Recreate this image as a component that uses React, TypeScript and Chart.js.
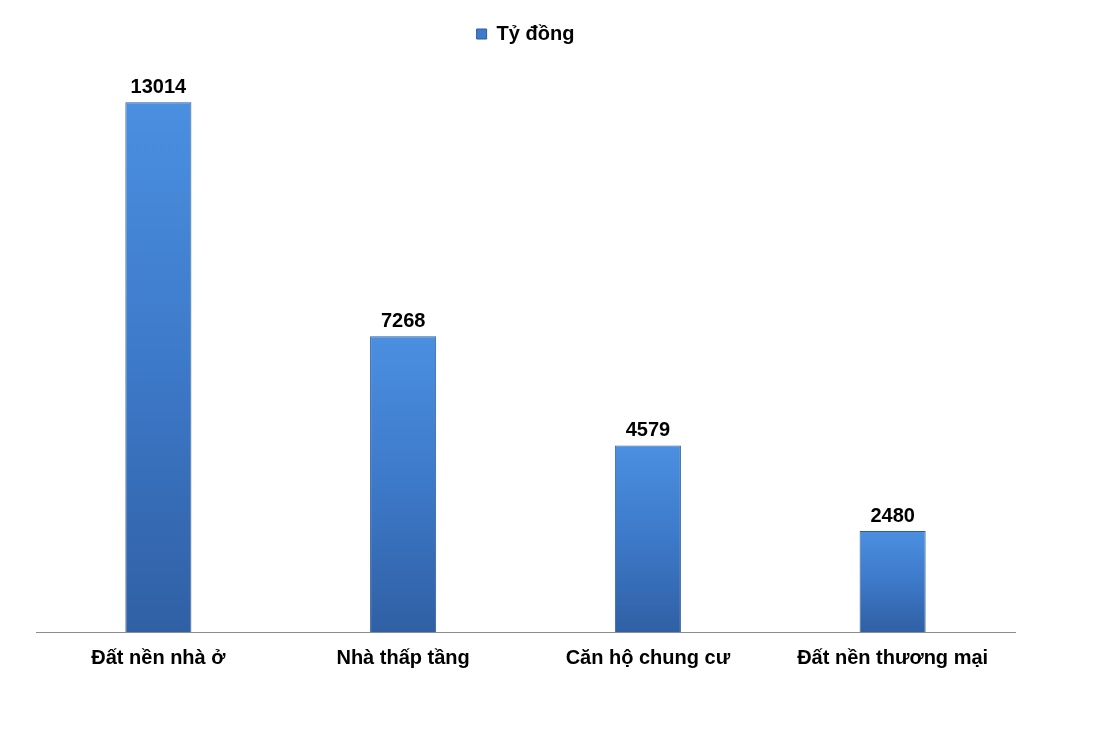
import React, { useEffect, useRef } from "react";
import { Chart, registerables } from "chart.js";

Chart.register(...registerables);

const categories = ["Đất nền nhà ở", "Nhà thấp tầng", "Căn hộ chung cư", "Đất nền thương mại"];
const values = [13014, 7268, 4579, 2480];
const seriesName = "Tỷ đồng";

const FONT = "'Liberation Sans', Arial, sans-serif";

const valueLabels = {
  id: "valueLabels",
  afterDatasetsDraw(chart: any) {
    const ctx = chart.ctx;
    const meta = chart.getDatasetMeta(0);
    ctx.save();
    ctx.font = `bold 20px ${FONT}`;
    ctx.fillStyle = "#000";
    ctx.textAlign = "center";
    ctx.textBaseline = "bottom";
    meta.data.forEach((el: any, i: number) => {
      ctx.fillText(String(values[i]), el.x, el.y - 5);
    });
    ctx.restore();
  },
};

function barFill(context: any) {
  const chart = context.chart;
  const { ctx, chartArea, scales } = chart;
  if (!chartArea || !scales.y || context.dataIndex === undefined) return "#3f7fd0";
  const v = values[context.dataIndex] ?? 0;
  const top = scales.y.getPixelForValue(v);
  const bottom = scales.y.getPixelForValue(0);
  const g = ctx.createLinearGradient(0, top, 0, bottom);
  g.addColorStop(0, "#4b8fe1");
  g.addColorStop(0.5, "#3d79c9");
  g.addColorStop(1, "#3060a4");
  return g;
}

export default function App() {
  const ref = useRef<HTMLCanvasElement | null>(null);
  useEffect(() => {
    if (!ref.current) return;
    const chart = new Chart(ref.current, {
      type: "bar",
      data: {
        labels: categories,
        datasets: [
          {
            label: seriesName,
            data: values,
            backgroundColor: barFill as any,
            borderColor: "#2f5c98",
            borderWidth: 1,
            categoryPercentage: 1,
            barPercentage: 0.27,
          },
        ],
      },
      options: {
        animation: false,
        responsive: false,
        layout: { padding: { left: 36, right: 81, top: 14, bottom: 57 } },
        plugins: {
          legend: {
            position: "top",
            labels: {
              font: { family: FONT, size: 20, weight: "bold" },
              color: "#000",
              boxWidth: 10,
              boxHeight: 10,
              padding: 10,
              generateLabels: () => [
                {
                  text: seriesName,
                  fillStyle: "#3f7bcb",
                  strokeStyle: "#2f5c98",
                  lineWidth: 1,
                  datasetIndex: 0,
                  fontColor: "#000",
                } as any,
              ],
            },
          },
          tooltip: { enabled: false },
        },
        scales: {
          x: {
            grid: { display: false, drawTicks: false },
            border: { display: true, color: "#8c8c8c", width: 1 },
            ticks: {
              font: { family: FONT, size: 20, weight: "bold" },
              color: "#000",
              padding: 14,
              maxRotation: 0,
            },
          },
          y: {
            display: false,
            min: 0,
            max: 14200,
          },
        },
      },
      plugins: [valueLabels],
    });
    return () => chart.destroy();
  }, []);
  return (
    <div style={{ position: "absolute", left: 0, top: 0, width: 1096, height: 741, background: "#fff" }}>
      <canvas ref={ref} width={1096} height={741} style={{ width: 1096, height: 741 }} />
    </div>
  );
}
